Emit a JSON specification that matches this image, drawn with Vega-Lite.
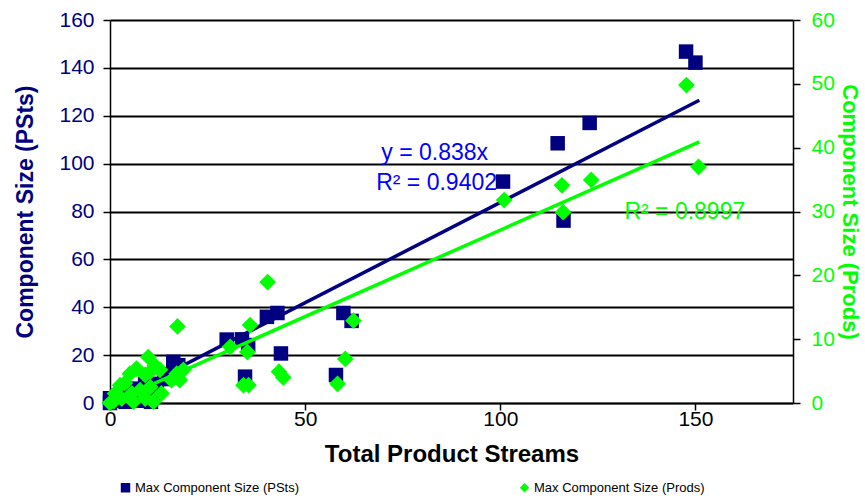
{
  "$schema": "https://vega.github.io/schema/vega-lite/v6.json",
  "width": 683,
  "height": 383,
  "autosize": {"type": "none"},
  "padding": {"left": 110, "top": 20, "right": 72, "bottom": 97},
  "background": "white",
  "config": {
    "view": {"stroke": null},
    "font": "Liberation Sans",
    "axis": {
      "labelFont": "Liberation Sans",
      "titleFont": "Liberation Sans",
      "labelFontSize": 21,
      "titleFontSize": 24,
      "titleFontWeight": "bold",
      "domainColor": "black",
      "tickColor": "black",
      "domainWidth": 1.5,
      "tickWidth": 1.5,
      "labelFlush": false,
      "labelOverlap": false
    }
  },
  "datasets": {
    "psts": [
      {"streams": 147.6, "size": 146.8, "series": "Max Component Size (PSts)"},
      {"streams": 150.0, "size": 142.2, "series": "Max Component Size (PSts)"},
      {"streams": 122.9, "size": 117.0, "series": "Max Component Size (PSts)"},
      {"streams": 114.7, "size": 108.5, "series": "Max Component Size (PSts)"},
      {"streams": 100.7, "size": 92.5, "series": "Max Component Size (PSts)"},
      {"streams": 116.2, "size": 76.2, "series": "Max Component Size (PSts)"},
      {"streams": 59.8, "size": 37.6, "series": "Max Component Size (PSts)"},
      {"streams": 61.9, "size": 34.3, "series": "Max Component Size (PSts)"},
      {"streams": 57.9, "size": 11.7, "series": "Max Component Size (PSts)"},
      {"streams": 42.9, "size": 37.6, "series": "Max Component Size (PSts)"},
      {"streams": 40.2, "size": 36.0, "series": "Max Component Size (PSts)"},
      {"streams": 43.8, "size": 20.7, "series": "Max Component Size (PSts)"},
      {"streams": 34.6, "size": 11.0, "series": "Max Component Size (PSts)"},
      {"streams": 29.9, "size": 26.5, "series": "Max Component Size (PSts)"},
      {"streams": 33.8, "size": 26.6, "series": "Max Component Size (PSts)"},
      {"streams": 35.4, "size": 24.2, "series": "Max Component Size (PSts)"},
      {"streams": 16.2, "size": 17.2, "series": "Max Component Size (PSts)"},
      {"streams": 17.5, "size": 15.8, "series": "Max Component Size (PSts)"},
      {"streams": 0, "size": 2, "series": "Max Component Size (PSts)"},
      {"streams": 0, "size": 0, "series": "Max Component Size (PSts)"},
      {"streams": 1, "size": 1, "series": "Max Component Size (PSts)"},
      {"streams": 2, "size": 3, "series": "Max Component Size (PSts)"},
      {"streams": 3, "size": 2, "series": "Max Component Size (PSts)"},
      {"streams": 5, "size": 4, "series": "Max Component Size (PSts)"},
      {"streams": 6, "size": 6, "series": "Max Component Size (PSts)"},
      {"streams": 8, "size": 5, "series": "Max Component Size (PSts)"},
      {"streams": 9, "size": 1, "series": "Max Component Size (PSts)"},
      {"streams": 10, "size": 2, "series": "Max Component Size (PSts)"},
      {"streams": 10.5, "size": 0.5, "series": "Max Component Size (PSts)"},
      {"streams": 12, "size": 8, "series": "Max Component Size (PSts)"},
      {"streams": 11, "size": 3, "series": "Max Component Size (PSts)"},
      {"streams": 7, "size": 1, "series": "Max Component Size (PSts)"},
      {"streams": 4, "size": 0.5, "series": "Max Component Size (PSts)"},
      {"streams": 14, "size": 10, "series": "Max Component Size (PSts)"},
      {"streams": 15, "size": 12, "series": "Max Component Size (PSts)"},
      {"streams": 9, "size": 8, "series": "Max Component Size (PSts)"}
    ],
    "prods": [
      {"streams": 147.7, "size": 49.8, "series": "Max Component Size (Prods)"},
      {"streams": 150.8, "size": 37.0, "series": "Max Component Size (Prods)"},
      {"streams": 123.3, "size": 34.95, "series": "Max Component Size (Prods)"},
      {"streams": 115.8, "size": 34.1, "series": "Max Component Size (Prods)"},
      {"streams": 116.1, "size": 29.9, "series": "Max Component Size (Prods)"},
      {"streams": 101.0, "size": 31.8, "series": "Max Component Size (Prods)"},
      {"streams": 40.4, "size": 18.95, "series": "Max Component Size (Prods)"},
      {"streams": 35.9, "size": 12.2, "series": "Max Component Size (Prods)"},
      {"streams": 30.8, "size": 8.8, "series": "Max Component Size (Prods)"},
      {"streams": 35.2, "size": 8.0, "series": "Max Component Size (Prods)"},
      {"streams": 43.3, "size": 4.9, "series": "Max Component Size (Prods)"},
      {"streams": 44.4, "size": 4.0, "series": "Max Component Size (Prods)"},
      {"streams": 34.2, "size": 2.8, "series": "Max Component Size (Prods)"},
      {"streams": 35.5, "size": 2.8, "series": "Max Component Size (Prods)"},
      {"streams": 62.4, "size": 12.9, "series": "Max Component Size (Prods)"},
      {"streams": 60.3, "size": 6.9, "series": "Max Component Size (Prods)"},
      {"streams": 58.3, "size": 3.0, "series": "Max Component Size (Prods)"},
      {"streams": 17.3, "size": 12.0, "series": "Max Component Size (Prods)"},
      {"streams": 9.8, "size": 7.2, "series": "Max Component Size (Prods)"},
      {"streams": 6.8, "size": 5.4, "series": "Max Component Size (Prods)"},
      {"streams": 5.1, "size": 4.6, "series": "Max Component Size (Prods)"},
      {"streams": 11.5, "size": 5.9, "series": "Max Component Size (Prods)"},
      {"streams": 10.3, "size": 4.9, "series": "Max Component Size (Prods)"},
      {"streams": 9.0, "size": 4.4, "series": "Max Component Size (Prods)"},
      {"streams": 17.1, "size": 4.6, "series": "Max Component Size (Prods)"},
      {"streams": 18.8, "size": 5.2, "series": "Max Component Size (Prods)"},
      {"streams": 15.8, "size": 3.6, "series": "Max Component Size (Prods)"},
      {"streams": 2.6, "size": 2.8, "series": "Max Component Size (Prods)"},
      {"streams": 3.8, "size": 3.1, "series": "Max Component Size (Prods)"},
      {"streams": 1.3, "size": 1.5, "series": "Max Component Size (Prods)"},
      {"streams": 3.0, "size": 0.7, "series": "Max Component Size (Prods)"},
      {"streams": 5.6, "size": 1.5, "series": "Max Component Size (Prods)"},
      {"streams": 7.7, "size": 2.0, "series": "Max Component Size (Prods)"},
      {"streams": 9.0, "size": 0.7, "series": "Max Component Size (Prods)"},
      {"streams": 11.1, "size": 0.2, "series": "Max Component Size (Prods)"},
      {"streams": 13.2, "size": 1.5, "series": "Max Component Size (Prods)"},
      {"streams": 10.3, "size": 2.5, "series": "Max Component Size (Prods)"},
      {"streams": 17.9, "size": 3.6, "series": "Max Component Size (Prods)"},
      {"streams": 12.8, "size": 5.2, "series": "Max Component Size (Prods)"},
      {"streams": 0, "size": 0, "series": "Max Component Size (Prods)"},
      {"streams": 1, "size": 0.3, "series": "Max Component Size (Prods)"},
      {"streams": 6, "size": 0.2, "series": "Max Component Size (Prods)"}
    ],
    "trendPsts": [
      {"streams": 1, "size": 0.84},
      {"streams": 151, "size": 126.5}
    ],
    "trendProds": [
      {"streams": 1, "size": 0.27},
      {"streams": 151, "size": 40.9}
    ],
    "labelsPsts": [
      {"streams": 69.5, "size": 104.6, "label": "y = 0.838x"},
      {"streams": 68.2, "size": 91.7, "label": "R² = 0.9402"}
    ],
    "labelsProds": [
      {"streams": 131.8, "size": 30.0, "label": "R² = 0.8997"}
    ]
  },
  "layer": [
    {
      "encoding": {
        "x": {
          "field": "streams", "type": "quantitative",
          "scale": {"domain": [0, 175], "nice": false, "zero": false},
          "axis": {
            "values": [0, 50, 100, 150], "title": "Total Product Streams",
            "grid": false, "tickSize": 7, "labelPadding": -2,
            "labelColor": "black", "titleColor": "black", "titlePadding": 13
          }
        },
        "y": {
          "field": "size", "type": "quantitative",
          "scale": {"domain": [0, 160], "nice": false},
          "axis": {
            "values": [0, 20, 40, 60, 80, 100, 120, 140, 160],
            "title": "Component Size (PSts)", "orient": "left",
            "grid": true, "gridColor": "black", "gridWidth": 1.8,
            "tickSize": 7, "labelPadding": 9, "titleFontSize": 23,
            "labelColor": "#000080", "titleColor": "#000080", "titlePadding": 21
          }
        }
      },
      "layer": [
        {
          "data": {"name": "psts"},
          "mark": {"type": "point", "filled": true, "size": 210, "opacity": 1},
          "encoding": {
            "color": {
              "field": "series", "type": "nominal",
              "scale": {"domain": ["Max Component Size (PSts)", "Max Component Size (Prods)"], "range": ["#000080", "#00FF00"]},
              "legend": {
                "title": null, "orient": "none", "direction": "horizontal",
                "legendX": 9, "legendY": 461,
                "labelFont": "Liberation Sans", "labelFontSize": 13, "labelLimit": 400,
                "symbolSize": 90, "columnPadding": 218, "labelOffset": 3
              }
            },
            "shape": {
              "field": "series", "type": "nominal",
              "scale": {"domain": ["Max Component Size (PSts)", "Max Component Size (Prods)"], "range": ["square", "diamond"]},
              "legend": {
                "title": null, "orient": "none", "direction": "horizontal",
                "legendX": 9, "legendY": 461,
                "labelFont": "Liberation Sans", "labelFontSize": 13, "labelLimit": 400,
                "symbolSize": 90, "columnPadding": 218, "labelOffset": 3
              }
            }
          }
        },
        {
          "data": {"name": "trendPsts"},
          "mark": {"type": "line", "color": "#000080", "strokeWidth": 3.5}
        },
        {
          "data": {"name": "labelsPsts"},
          "mark": {"type": "text", "align": "left", "baseline": "middle", "fontSize": 23, "color": "#0000FF", "font": "Liberation Sans"},
          "encoding": {"text": {"field": "label", "type": "nominal"}}
        }
      ]
    },
    {
      "encoding": {
        "x": {
          "field": "streams", "type": "quantitative",
          "scale": {"domain": [0, 175], "nice": false, "zero": false},
          "axis": {
            "values": [0, 50, 100, 150], "title": "Total Product Streams",
            "grid": false, "tickSize": 7, "labelPadding": -2,
            "labelColor": "black", "titleColor": "black", "titlePadding": 13
          }
        },
        "y": {
          "field": "size", "type": "quantitative",
          "scale": {"domain": [0, 60], "nice": false},
          "axis": {
            "values": [0, 10, 20, 30, 40, 50, 60],
            "title": "Component Size (Prods)", "orient": "right",
            "grid": false, "tickSize": 7, "labelPadding": 11, "titleFontSize": 22,
            "labelColor": "#00FF00", "titleColor": "#00FF00", "titlePadding": 3
          }
        }
      },
      "layer": [
        {
          "data": {"name": "prods"},
          "mark": {"type": "point", "filled": true, "size": 280, "opacity": 1},
          "encoding": {
            "color": {
              "field": "series", "type": "nominal",
              "scale": {"domain": ["Max Component Size (PSts)", "Max Component Size (Prods)"], "range": ["#000080", "#00FF00"]}
            },
            "shape": {
              "field": "series", "type": "nominal",
              "scale": {"domain": ["Max Component Size (PSts)", "Max Component Size (Prods)"], "range": ["square", "diamond"]}
            }
          }
        },
        {
          "data": {"name": "trendProds"},
          "mark": {"type": "line", "color": "#00FF00", "strokeWidth": 3.5}
        },
        {
          "data": {"name": "labelsProds"},
          "mark": {"type": "text", "align": "left", "baseline": "middle", "fontSize": 23, "color": "#00FF00", "font": "Liberation Sans"},
          "encoding": {"text": {"field": "label", "type": "nominal"}}
        }
      ]
    }
  ],
  "resolve": {"scale": {"y": "independent"}}
}
